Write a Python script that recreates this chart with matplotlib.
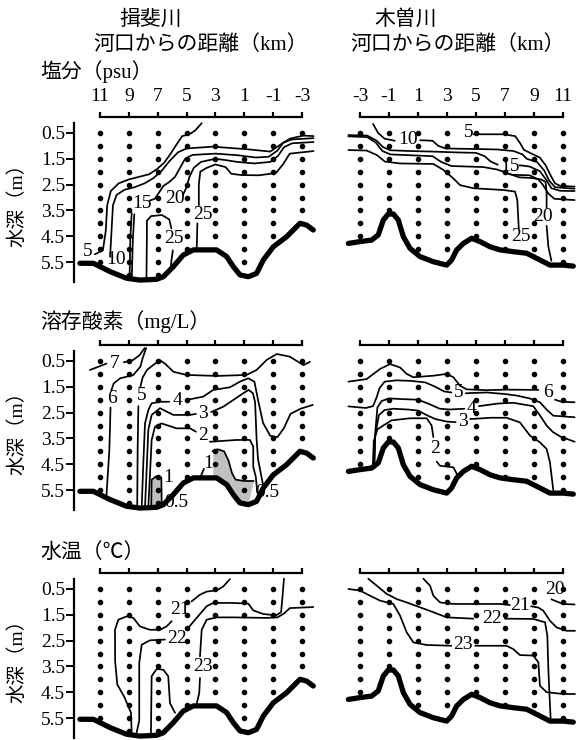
import numpy as np
import matplotlib
matplotlib.use('Agg')
from matplotlib import pyplot as plt

plt.rcParams['font.family'] = ['Liberation Serif', 'Noto Sans CJK JP']

# observation stations (km from the river mouth) and deepest sampled depth (m)
ibi_stations = [11, 9, 7, 5, 3, 1, -1, -3]
ibi_dot_max = [5.5, 6.0, 6.0, 5.0, 4.5, 5.5, 4.5, 3.5]
kiso_stations = [-3, -1, 1, 3, 5, 7, 9, 11]
kiso_dot_max = [4.5, 3.5, 5.0, 5.0, 4.5, 5.0, 5.0, 5.5]
depth_ticks = [0.5, 1.5, 2.5, 3.5, 4.5, 5.5]

# river bed profiles
ibi_bed_km = [12.39, 11.46, 10.31, 9.15, 8.23, 7.07, 6.61, 5.92, 5.23, 4.53, 2.92, 2.22,
              1.76, 1.30, 0.72, 0.15, -0.32, -1.01, -1.93, -2.86, -3.32, -3.78]
ibi_bed_d = [5.55, 5.55, 5.87, 6.13, 6.20, 6.17, 6.07, 5.68, 5.23, 5.03, 5.03, 5.29,
             5.68, 6.00, 6.07, 5.94, 5.42, 4.91, 4.52, 4.00, 4.07, 4.26]
kiso_bed_km = [-3.80, -3.0, -2.2, -1.74, -1.39, -1.05, -0.70, -0.36, -0.01, 0.45, 1.14, 2.06, 2.98,
               3.32, 3.67, 4.13, 4.70, 5.28, 5.97, 6.66, 7.57, 8.49, 9.41, 10.1, 11.02, 11.71]
kiso_bed_d = [4.78, 4.71, 4.65, 4.45, 3.87, 3.64, 3.64, 3.87, 4.52, 4.97, 5.29, 5.49, 5.62,
              5.42, 5.03, 4.78, 4.58, 4.71, 4.91, 5.03, 5.10, 5.16, 5.42, 5.62, 5.62, 5.66]

# isolines, each a list of (km, depth) points, broken where a label sits
sal_ibi_lines = [
    [(11.35, 5.2), (10.8, 5.05), (10.6, 4.3), (10.5, 3.3), (10.25, 2.75), (9.7, 2.45), (9.0, 2.3),
     (8.3, 2.2), (7.6, 2.1), (7.05, 1.9), (6.55, 1.65), (6.1, 1.3), (5.7, 0.95), (5.3, 0.62),
     (4.8, 0.55), (4.4, 0.4), (3.95, 0.12)],
    [(10.3, 5.3), (10.2, 4.3), (10.1, 3.3), (9.85, 2.9), (9.3, 2.7), (8.6, 2.6), (7.9, 2.45),
     (7.3, 2.25), (6.7, 1.95), (6.2, 1.6), (5.6, 1.25), (5.0, 1.1), (3.2, 1.03), (0.8, 1.13),
     (-0.8, 1.22), (-1.45, 0.97), (-2.15, 0.72), (-3.1, 0.6), (-3.8, 0.62)],
    [(8.95, 6.17), (8.9, 4.6), (8.8, 3.6)],
    [(7.55, 3.12), (7.2, 3.05), (6.9, 2.8), (6.6, 2.55), (6.2, 2.4), (5.8, 2.2), (5.45, 1.85),
     (5.1, 1.5), (4.6, 1.35), (3.0, 1.3), (1.5, 1.36), (0.2, 1.45), (-0.7, 1.42), (-1.3, 1.18),
     (-1.7, 0.88), (-2.3, 0.75), (-3.8, 0.7)],
    [(8.8, 6.17), (8.72, 4.6), (8.62, 3.65)],
    [(5.25, 2.9), (5.0, 2.6), (4.8, 2.2), (4.5, 1.85), (4.0, 1.62), (3.0, 1.5), (2.3, 1.55),
     (1.5, 1.62), (0.3, 1.68), (-0.8, 1.62), (-1.35, 1.38), (-1.75, 1.05), (-2.3, 0.9), (-3.8, 0.85)],
    [(4.3, 5.05), (4.25, 4.0)],
    [(4.15, 3.3), (4.15, 2.5), (4.05, 2.0), (3.6, 1.85), (3.0, 1.72), (2.3, 1.82), (1.9, 2.08),
     (1.2, 2.13), (0.0, 2.14), (-1.2, 2.05), (-1.7, 1.7), (-2.15, 1.3), (-3.8, 1.2)],
    [(7.78, 6.17), (7.75, 4.5), (7.75, 3.9), (7.45, 3.72), (6.7, 3.68), (6.2, 3.85), (6.05, 4.2)],
    [(5.95, 5.05), (6.05, 5.45), (6.1, 5.75)],
]
sal_ibi_labels = [('5', 11.82, 5.1), ('10', 9.88, 5.4), ('15', 8.1, 3.25), ('20', 5.8, 3.03),
                  ('25', 3.9, 3.65), ('25', 5.88, 4.6)]

sal_kiso_lines = [
    [(4.85, 0.55), (6.9, 0.55), (7.7, 0.62), (8.05, 0.9), (8.3, 1.15), (8.75, 1.28), (9.4, 1.45),
     (9.8, 1.75), (10.15, 2.15), (10.45, 2.45), (10.8, 2.55), (11.8, 2.58)],
    [(-2.1, 0.15), (-1.75, 0.5), (-1.3, 0.72), (-0.6, 0.8)],
    [(1.15, 0.78), (2.0, 0.8), (2.4, 1.0), (2.9, 1.1), (5.0, 1.12), (6.5, 1.14), (7.6, 1.2),
     (8.2, 1.33), (8.5, 1.5), (9.2, 1.62), (9.7, 1.95), (10.05, 2.35), (10.45, 2.6), (11.8, 2.66)],
    [(-3.8, 0.58), (-2.5, 0.6), (-1.85, 0.8), (-1.4, 1.05), (-0.9, 1.17), (0.5, 1.2), (2.0, 1.22),
     (3.5, 1.25), (5.0, 1.27), (5.6, 1.4), (6.0, 1.6), (6.5, 1.73)],
    [(8.0, 1.75), (8.7, 1.8), (9.4, 1.98), (9.85, 2.32), (10.2, 2.64), (10.8, 2.74), (11.8, 2.75)],
    [(-3.8, 0.63), (-2.5, 0.66), (-1.9, 0.88), (-1.45, 1.2), (-0.9, 1.33), (0.8, 1.37), (2.0, 1.4),
     (2.6, 1.62), (3.3, 1.78), (5.5, 1.82), (6.5, 1.92), (7.1, 2.05), (7.5, 2.12), (8.7, 2.14),
     (9.3, 2.3), (9.6, 2.5), (10.0, 2.85), (10.4, 3.05), (11.8, 3.1)],
    [(7.1, 2.05), (8.0, 2.22), (8.73, 2.24), (9.5, 2.3), (9.8, 2.4), (9.87, 2.84), (9.87, 3.4)],
    [(9.87, 4.1), (9.99, 4.9), (10.2, 5.45)],
    [(-3.8, 1.16), (-2.54, 1.18), (-1.85, 1.35), (-1.28, 1.61), (-0.24, 1.68), (2.06, 1.7),
     (2.75, 1.93), (3.44, 2.26), (3.9, 2.52), (4.82, 2.64), (6.89, 2.71), (7.69, 2.77), (7.85, 3.1),
     (7.92, 3.87), (7.95, 4.2)],
]
sal_kiso_labels = [('5', 4.47, 0.5), ('10', 0.3, 0.77), ('15', 7.34, 1.8), ('20', 9.65, 3.74),
                   ('25', 8.1, 4.5)]

do_ibi_lines = [
    [(11.7, 0.85), (11.1, 0.72), (10.55, 0.6)],
    [(9.35, 0.55), (8.7, 0.46), (8.25, 0.27), (7.9, 0.0)],
    [(7.8, 0.0), (8.05, 0.4), (8.2, 0.72), (8.7, 1.05), (9.6, 1.17), (10.05, 1.37), (10.22, 1.65)],
    [(10.27, 2.3), (10.35, 3.95), (10.55, 5.7)],
    [(8.42, 6.18), (8.39, 3.95), (8.34, 2.25)],
    [(8.2, 1.5), (8.05, 1.15), (7.75, 0.85), (7.3, 0.65), (6.85, 0.47), (6.5, 0.6), (5.9, 0.92),
     (5.0, 1.04), (2.9, 1.08), (0.85, 1.04), (0.15, 0.85), (-0.55, 0.46), (-1.25, 0.23),
     (-2.15, 0.33), (-3.1, 0.66), (-3.55, 0.53)],
    [(8.11, 6.18), (8.0, 4.5), (7.88, 2.92), (7.65, 2.4), (7.42, 2.14), (6.84, 2.08), (6.2, 2.08)],
    [(5.0, 2.01), (3.84, 1.88), (3.15, 1.62), (2.0, 1.52), (1.3, 1.3), (0.72, 1.17), (0.3, 1.3),
     (0.05, 2.0), (-0.3, 2.9), (-0.8, 3.4), (-1.3, 3.45), (-1.75, 3.1), (-2.2, 2.55), (-2.9, 2.35),
     (-3.75, 2.2)],
    [(7.88, 6.18), (7.75, 4.5), (7.65, 3.17), (7.42, 2.59), (6.84, 2.33), (5.92, 2.59), (4.76, 2.59),
     (4.35, 2.55)],
    [(3.3, 2.48), (2.45, 2.27), (1.76, 2.01), (1.07, 1.75), (0.7, 1.62), (0.4, 1.75), (0.25, 2.1),
     (0.15, 3.5), (0.05, 4.3), (-0.3, 5.3)],
    [(7.65, 6.18), (7.5, 4.5), (7.42, 3.56), (7.19, 3.05), (6.73, 2.92), (5.69, 3.11), (4.76, 3.11),
     (4.35, 3.24)],
    [(3.38, 3.63), (1.53, 3.56), (0.61, 3.56), (0.38, 3.82), (0.38, 4.6), (0.2, 5.0), (0.1, 5.6)],
    [(7.45, 6.18), (7.42, 5.1), (7.1, 4.97), (6.75, 5.02), (6.72, 6.1)],
    [(4.05, 5.02), (3.8, 4.68)],
    [(3.2, 4.0), (2.85, 3.92), (2.4, 4.0), (2.1, 4.35), (1.85, 4.85), (1.6, 5.1), (1.0, 5.15),
     (0.35, 5.15)],
]
do_ibi_labels = [('7', 9.96, 0.59), ('6', 10.2, 1.95), ('5', 8.1, 1.85), ('4', 5.63, 2.05),
                 ('3', 3.85, 2.55), ('2', 3.85, 3.4), ('1', 6.27, 5.02), ('1', 3.5, 4.46),
                 ('0.5', 5.7, 6.0), ('0.5', -0.6, 5.58)]
# low oxygen (< 1 mg/L) patches
do_ibi_low_left = [(7.45, 6.18), (7.42, 5.1), (7.1, 4.97), (6.75, 5.02), (6.72, 6.1)]
do_ibi_low_right = [(3.15, 3.97), (2.85, 3.92), (2.4, 4.0), (2.1, 4.35), (1.85, 4.85), (1.6, 5.1),
                    (1.0, 5.15), (0.33, 5.15)]

do_kiso_lines = [
    [(-3.8, 1.3), (-2.54, 1.2), (-1.62, 0.81), (-0.93, 0.62), (-0.24, 0.75), (0.22, 1.0), (0.68, 1.13),
     (2.06, 1.07), (2.98, 1.0), (3.44, 1.13), (3.9, 1.46), (4.36, 1.6), (5.74, 1.63), (7.11, 1.61),
     (9.3, 1.62)],
    [(10.45, 2.0), (10.9, 2.08), (11.8, 2.1)],
    [(-3.8, 2.26), (-2.6, 2.32), (-2.1, 2.25), (-1.85, 1.9), (-1.65, 1.55), (-1.3, 1.3), (-0.5, 1.25),
     (0.5, 1.27), (1.5, 1.33), (2.2, 1.5), (2.8, 1.68), (3.3, 1.72)],
    [(4.3, 1.75), (5.74, 1.72), (7.0, 1.78), (7.8, 1.84), (8.7, 1.95), (9.41, 2.1), (9.9, 2.4),
     (10.33, 2.62), (11.8, 2.68)],
    [(-2.0, 4.65), (-1.95, 3.3), (-1.8, 2.3), (-1.5, 2.05), (-1.0, 1.95), (0.0, 1.98), (1.0, 2.0),
     (1.7, 2.15), (2.5, 2.35), (3.2, 2.38), (4.2, 2.35)],
    [(5.2, 2.25), (6.5, 2.15), (7.57, 2.12), (8.95, 2.25), (9.4, 2.6), (9.87, 3.0), (10.3, 3.25),
     (10.79, 3.42), (11.8, 3.63)],
    [(-2.05, 4.62), (-1.95, 3.4), (-1.7, 2.6), (-1.3, 2.4), (-0.7, 2.35), (0.3, 2.38), (1.0, 2.42),
     (1.6, 2.6), (2.2, 2.75), (3.0, 2.85), (3.6, 2.87)],
    [(4.6, 2.75), (6.0, 2.7), (7.11, 2.7), (8.03, 2.88), (8.72, 3.39), (9.41, 3.65), (9.87, 3.91),
     (10.1, 4.43), (10.33, 5.5)],
    [(-2.12, 4.62), (-2.05, 3.6), (-1.8, 3.15), (-1.39, 3.0), (-0.82, 2.8), (0.45, 2.72), (1.6, 2.72),
     (1.94, 3.0), (2.06, 3.45)],
    [(2.29, 4.4), (2.52, 4.56), (3.44, 4.62), (3.7, 4.9)],
]
do_kiso_labels = [('6', 10.0, 1.72), ('5', 3.78, 1.71), ('4', 4.7, 2.33), ('3', 4.08, 2.85),
                  ('2', 2.17, 3.91)]

tmp_ibi_lines = [
    [(8.8, 6.15), (8.85, 5.3), (9.3, 4.7), (9.8, 4.2), (9.95, 3.3), (9.96, 2.08), (9.73, 1.69),
     (9.15, 1.56), (8.69, 1.62), (8.23, 1.95), (7.54, 2.08), (6.84, 2.08), (6.38, 1.95), (6.03, 1.75)],
    [(4.65, 0.98), (4.07, 0.72), (3.6, 0.6), (2.9, 0.55), (2.45, 0.4), (2.0, 0.12)],
    [(8.5, 6.17), (8.28, 5.6), (8.28, 3.37), (8.11, 2.66), (7.54, 2.49), (6.5, 2.46)],
    [(5.0, 2.08), (4.3, 1.62), (3.61, 1.17), (3.15, 1.04), (1.76, 1.04), (0.72, 1.07), (0.38, 1.33),
     (-0.32, 1.47), (-1.2, 1.52), (-1.55, 1.4), (-1.65, 0.78), (-1.75, 0.1)],
    [(4.3, 4.95), (4.12, 4.53), (4.07, 3.95)],
    [(4.07, 3.11), (3.95, 2.08), (3.61, 1.69), (2.92, 1.6), (1.76, 1.6), (-0.55, 1.62), (-1.3, 1.6),
     (-1.75, 1.45), (-2.16, 1.24), (-3.78, 1.2)],
    [(7.47, 6.17), (7.42, 3.88), (7.07, 3.6), (6.61, 3.63), (6.27, 3.88), (6.15, 4.92), (5.8, 5.3)],
]
tmp_ibi_labels = [('21', 5.46, 1.3), ('22', 5.69, 2.4), ('23', 3.84, 3.5)]

tmp_kiso_lines = [
    [(10.2, 0.9), (11.0, 1.08), (11.8, 1.1)],
    [(1.37, 0.1), (1.83, 0.37), (2.06, 0.76), (2.52, 1.02), (3.44, 1.08), (6.66, 1.08), (7.34, 1.12)],
    [(8.8, 1.17), (9.3, 1.22), (9.64, 1.34), (10.1, 1.73), (10.56, 1.99), (11.25, 2.12), (11.83, 2.12)],
    [(-2.43, 0.1), (-1.85, 0.37), (-1.16, 0.69), (-0.47, 0.89), (0.22, 1.02), (1.14, 1.21),
     (2.06, 1.4), (2.98, 1.6), (4.82, 1.65)],
    [(7.0, 1.65), (8.95, 1.66), (9.76, 1.79), (9.92, 2.31), (9.99, 3.6), (10.06, 4.5), (10.15, 5.55)],
    [(-3.8, 0.5), (-3.0, 0.56), (-2.31, 0.76), (-1.62, 0.95), (-0.7, 1.08), (-0.24, 1.53),
     (0.22, 2.18), (0.68, 2.57), (1.6, 2.67), (3.3, 2.7)],
    [(4.95, 2.7), (7.11, 2.7), (7.57, 2.83), (8.03, 3.06), (8.95, 3.08), (9.3, 3.34), (9.41, 4.25),
     (9.87, 4.5), (11.02, 4.57), (11.83, 4.57)],
]
tmp_kiso_labels = [('20', 10.45, 0.53), ('21', 8.03, 1.15), ('22', 6.08, 1.66), ('23', 4.13, 2.67)]

W, H = 576, 740
fig = plt.figure(figsize=(W / 100, H / 100), dpi=100)


def fx(x):
    return x / W


def fy(y):
    return 1 - y / H


def draw_panel(ax, stations, dot_max, bed_km, bed_d, lines, labels, xlim, row, left):
    ax.set_xlim(*xlim)
    ax.set_ylim(6.275, -0.12)
    ax.patch.set_visible(False)
    for s, m in zip(stations, dot_max):
        ds = np.arange(0.5, m + 0.01, 0.5)
        ax.plot(np.full(len(ds), s), ds, 'o', color='black', ms=3, zorder=2)
    for seg in lines:
        k, d = zip(*seg)
        ax.plot(k, d, color='black', lw=1.25, solid_capstyle='round',
                solid_joinstyle='round', zorder=3)
    ax.plot(bed_km, bed_d, color='black', lw=3.8, solid_capstyle='round',
            solid_joinstyle='round', zorder=4, clip_on=False)
    for t, k, d in labels:
        ax.text(k, d, t, ha='center', va='center', fontsize=14, zorder=5)

    for side in ['left', 'right', 'bottom']:
        ax.spines[side].set_visible(False)
    ax.spines['top'].set_linewidth(1.6)
    ax.spines['top'].set_bounds(min(stations), max(stations))
    ax.xaxis.set_ticks_position('top')
    ax.set_xticks(stations)
    ax.set_xticklabels([str(s) for s in stations])
    ax.tick_params(axis='x', direction='out', length=3.5, width=1.6, pad=5, labelsize=14,
                   labeltop=(row == 0), labelbottom=False)
    if left:
        ax.spines['left'].set_visible(True)
        ax.spines['left'].set_linewidth(1.6)
        ax.spines['left'].set_bounds(0.12, 6.275)
        ax.set_yticks(depth_ticks)
        ax.set_yticklabels([str(v) for v in depth_ticks])
        ax.tick_params(axis='y', direction='out', length=5.5, width=1.4, pad=1, labelsize=14)
    else:
        ax.set_yticks([])


panels = [
    (sal_ibi_lines, sal_ibi_labels, sal_kiso_lines, sal_kiso_labels),
    (do_ibi_lines, do_ibi_labels, do_kiso_lines, do_kiso_labels),
    (tmp_ibi_lines, tmp_ibi_labels, tmp_kiso_lines, tmp_kiso_labels),
]
axes_left = []
for row, (li, la, lk, lb) in enumerate(panels):
    top = 117 + 228 * row
    bot = 282 + 228 * row
    axl = fig.add_axes([fx(74), fy(bot), (322 - 74) / W, (bot - top) / H])
    draw_panel(axl, ibi_stations, ibi_dot_max, ibi_bed_km, ibi_bed_d, li, la,
               (12.80, -4.385), row, True)
    axr = fig.add_axes([fx(338), fy(bot), (576 - 338) / W, (bot - top) / H])
    draw_panel(axr, kiso_stations, kiso_dot_max, kiso_bed_km, kiso_bed_d, lk, lb,
               (-4.517, 11.897), row, False)
    axes_left.append(axl)
    fig.text(fx(17), fy(200 + 228 * row), '水深（m）', rotation=90, ha='center', va='center',
             fontsize=14)

# gray shading of the low oxygen water in the Ibi DO panel
ax_do = axes_left[1]
k, d = zip(*do_ibi_low_left)
ax_do.fill(k, d, color='#c0c0c0', lw=0, zorder=1)
bed_km = np.array(ibi_bed_km)
bed_d = np.array(ibi_bed_d)
sel = (bed_km > 0.33) & (bed_km < 3.15)
poly = list(do_ibi_low_right) + list(zip(bed_km[sel][::-1], bed_d[sel][::-1])) + [(3.15, 5.05)]
k, d = zip(*poly)
ax_do.fill(k, d, color='#c0c0c0', lw=0, zorder=1)

# headers and panel titles
fig.text(fx(151), fy(20), '揖斐川', ha='center', va='center', fontsize=15)
fig.text(fx(201), fy(45), '河口からの距離（km）', ha='center', va='center', fontsize=15)
fig.text(fx(406), fy(20), '木曽川', ha='center', va='center', fontsize=15)
fig.text(fx(458), fy(45), '河口からの距離（km）', ha='center', va='center', fontsize=15)
fig.text(fx(40), fy(72), '塩分（psu）', ha='left', va='center', fontsize=15)
fig.text(fx(40), fy(322), '溶存酸素（mg/L）', ha='left', va='center', fontsize=15)
fig.text(fx(40), fy(553), '水温（℃）', ha='left', va='center', fontsize=15)

fig.savefig('out.png', dpi=100)
